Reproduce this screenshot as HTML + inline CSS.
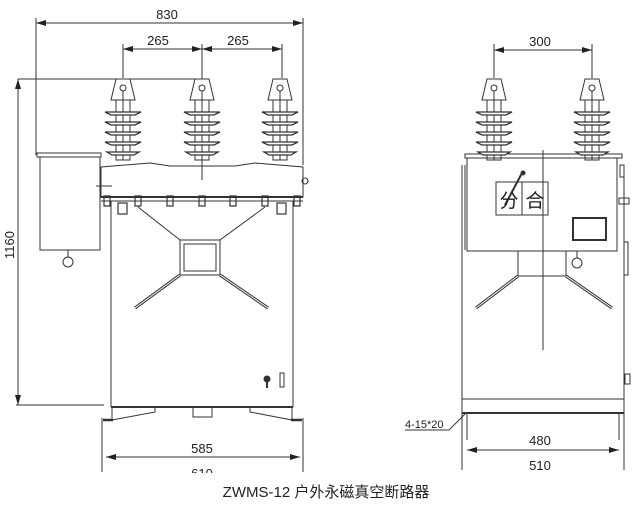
<!DOCTYPE html>
<html><head><meta charset="utf-8"><style>
html,body{margin:0;padding:0;background:#fff;}
svg{display:block;}
text{font-family:"Liberation Sans","Noto Sans CJK SC",sans-serif;fill:#222;}
</style></head><body>
<svg width="640" height="505" viewBox="0 0 640 505" xmlns="http://www.w3.org/2000/svg">
<defs>
<marker id="a" viewBox="0 0 10 6" refX="10" refY="3" markerWidth="10" markerHeight="6" orient="auto-start-reverse"><path d="M0,0 L10,3 L0,6 z" fill="#222"/></marker>
<g id="ins">
<path d="M-7,-23 L7,-23 L12,-2 L-12,-2 z" fill="#fff" stroke="#333" stroke-width="1"/>
<circle cx="0" cy="-14" r="3" fill="#fff" stroke="#333"/>
<line x1="0" y1="-11" x2="0" y2="58" stroke="#333"/>
<rect x="-7" y="-2" width="14" height="60" fill="none" stroke="#333"/>
<path d="M-18,10 L18,10 L12,13 L-12,13 z M-18,20 L18,20 L12,23 L-12,23 z M-18,30 L18,30 L12,33 L-12,33 z M-18,40 L18,40 L12,43 L-12,43 z M-16,50 L16,50 L11,53 L-11,53 z" fill="#fff" stroke="#333" stroke-width="1.3"/>
</g>
</defs>
<g stroke="#333" stroke-width="1" fill="none">
<line x1="36" y1="23" x2="303" y2="23" marker-start="url(#a)" marker-end="url(#a)"/>
<line x1="36" y1="18" x2="36" y2="155"/>
<line x1="303" y1="18" x2="303" y2="165"/>
<line x1="123" y1="49" x2="202" y2="49" marker-start="url(#a)" marker-end="url(#a)"/>
<line x1="202" y1="49" x2="282" y2="49" marker-start="url(#a)" marker-end="url(#a)"/>
<line x1="123" y1="44" x2="123" y2="78"/>
<line x1="202" y1="44" x2="202" y2="180"/>
<line x1="282" y1="44" x2="282" y2="78"/>
<line x1="18" y1="79" x2="202" y2="79"/>
<line x1="18" y1="79" x2="18" y2="405" marker-start="url(#a)" marker-end="url(#a)"/>
<line x1="16" y1="405" x2="104" y2="405"/>
<rect x="37" y="153" width="64" height="4"/>
<rect x="40" y="157" width="60" height="93"/>
<line x1="68" y1="250" x2="68" y2="257"/>
<circle cx="68" cy="262" r="5"/>
<path d="M101,167 L150,163 L170,166 L235,166 L255,163 L303,167 L303,197 L101,197 z"/>
<line x1="101" y1="197" x2="303" y2="197" stroke-width="2"/>
<line x1="101" y1="201" x2="303" y2="201"/>
<line x1="96" y1="186" x2="112" y2="186"/>
<circle cx="305" cy="181" r="3"/>
<line x1="111" y1="201" x2="111" y2="407"/>
<line x1="293" y1="201" x2="293" y2="407"/>
<path d="M138,207 L180,240 L220,240 L265,207"/>
<rect x="180" y="240" width="40" height="35"/>
<rect x="184" y="244" width="32" height="27"/>
<path d="M180,275 L135,308 M220,275 L268,308" stroke-width="3"/>
<path d="M180,275 L135,308 M220,275 L268,308" stroke="#fff" stroke-width="1"/>
<line x1="111" y1="407" x2="293" y2="407" stroke-width="2"/>
<path d="M112,407 L112,420 L155,412 L155,407 M292,407 L292,420 L250,412 L250,407"/>
<rect x="193" y="407" width="19" height="10"/>
<line x1="103" y1="420" x2="113" y2="420" stroke-width="2.5"/>
<line x1="291" y1="420" x2="302" y2="420" stroke-width="2.5"/>
<line x1="102" y1="418" x2="102" y2="472"/>
<line x1="303" y1="418" x2="303" y2="472"/>
<line x1="106" y1="457" x2="300" y2="457" marker-start="url(#a)" marker-end="url(#a)"/>
<rect x="280" y="373" width="4" height="14"/>
<circle cx="267" cy="379" r="3" fill="#333"/>
<line x1="267" y1="381" x2="267" y2="388" stroke-width="2"/>
<g stroke-width="1.2">
<path d="M104,196 h6 v10 h-6 z M135,196 h6 v10 h-6 z M167,196 h6 v10 h-6 z M199,196 h6 v10 h-6 z M230,196 h6 v10 h-6 z M262,196 h6 v10 h-6 z M294,196 h6 v10 h-6 z"/>
<rect x="118" y="203" width="9" height="11"/><rect x="277" y="203" width="9" height="11"/>
</g>
<line x1="494" y1="50" x2="592" y2="50" marker-start="url(#a)" marker-end="url(#a)"/>
<line x1="494" y1="44" x2="494" y2="78"/>
<line x1="592" y1="44" x2="592" y2="78"/>
<rect x="465" y="154" width="157" height="4"/>
<rect x="467" y="158" width="150" height="93"/>
<line x1="462" y1="165" x2="462" y2="413"/>
<line x1="465" y1="165" x2="465" y2="250"/>
<line x1="624" y1="165" x2="624" y2="413"/>
<rect x="620" y="165" width="4" height="12"/>
<rect x="624" y="242" width="4" height="33"/>
<rect x="496" y="182" width="52" height="33"/>
<line x1="522" y1="182" x2="522" y2="215"/>
<line x1="505" y1="205" x2="522" y2="173" stroke-width="2"/>
<circle cx="523" cy="173" r="2" fill="#333"/>
<rect x="573" y="218" width="33" height="22" stroke-width="2"/>
<line x1="543" y1="150" x2="543" y2="350"/>
<path d="M619,198 h10 v6 h-10 z"/>
<rect x="518" y="251" width="48" height="25"/>
<path d="M518,276 L476,308 M566,276 L612,308" stroke-width="3"/>
<path d="M518,276 L476,308 M566,276 L612,308" stroke="#fff" stroke-width="1"/>
<line x1="577" y1="251" x2="577" y2="258"/>
<circle cx="577" cy="263" r="5"/>
<rect x="625" y="374" width="5" height="10"/>
<line x1="462" y1="399" x2="624" y2="399"/>
<line x1="462" y1="413" x2="624" y2="413" stroke-width="2"/>
<line x1="462" y1="413" x2="462" y2="470"/>
<line x1="624" y1="413" x2="624" y2="470"/>
<line x1="467" y1="413" x2="467" y2="440"/>
<line x1="619" y1="413" x2="619" y2="440"/>
<line x1="467" y1="450" x2="619" y2="450" marker-start="url(#a)" marker-end="url(#a)"/>
<path d="M405,430 L449,430 L466,413"/>
</g>
<use href="#ins" x="123" y="102"/>
<use href="#ins" x="202" y="102"/>
<use href="#ins" x="280" y="102"/>
<use href="#ins" x="494" y="102"/>
<use href="#ins" x="592" y="102"/>
<g font-size="13">
<text x="167" y="19" text-anchor="middle">830</text>
<text x="158" y="45" text-anchor="middle">265</text>
<text x="238" y="45" text-anchor="middle">265</text>
<text x="540" y="46" text-anchor="middle">300</text>
<text x="14" y="245" text-anchor="middle" transform="rotate(-90 14 245)">1160</text>
<text x="202" y="453" text-anchor="middle">585</text>
<text x="202" y="478" text-anchor="middle">610</text>
<text x="540" y="445" text-anchor="middle">480</text>
<text x="540" y="470" text-anchor="middle">510</text>
<text x="405" y="428" font-size="11">4-15*20</text>
<text x="509" y="207" text-anchor="middle" font-size="19">分</text>
<text x="535" y="207" text-anchor="middle" font-size="19">合</text>
</g>
<rect x="150" y="473" width="300" height="32" fill="#fff"/>
<text x="326" y="497" text-anchor="middle" font-size="15">ZWMS-12  户外永磁真空断路器</text>
</svg>
</body></html>
